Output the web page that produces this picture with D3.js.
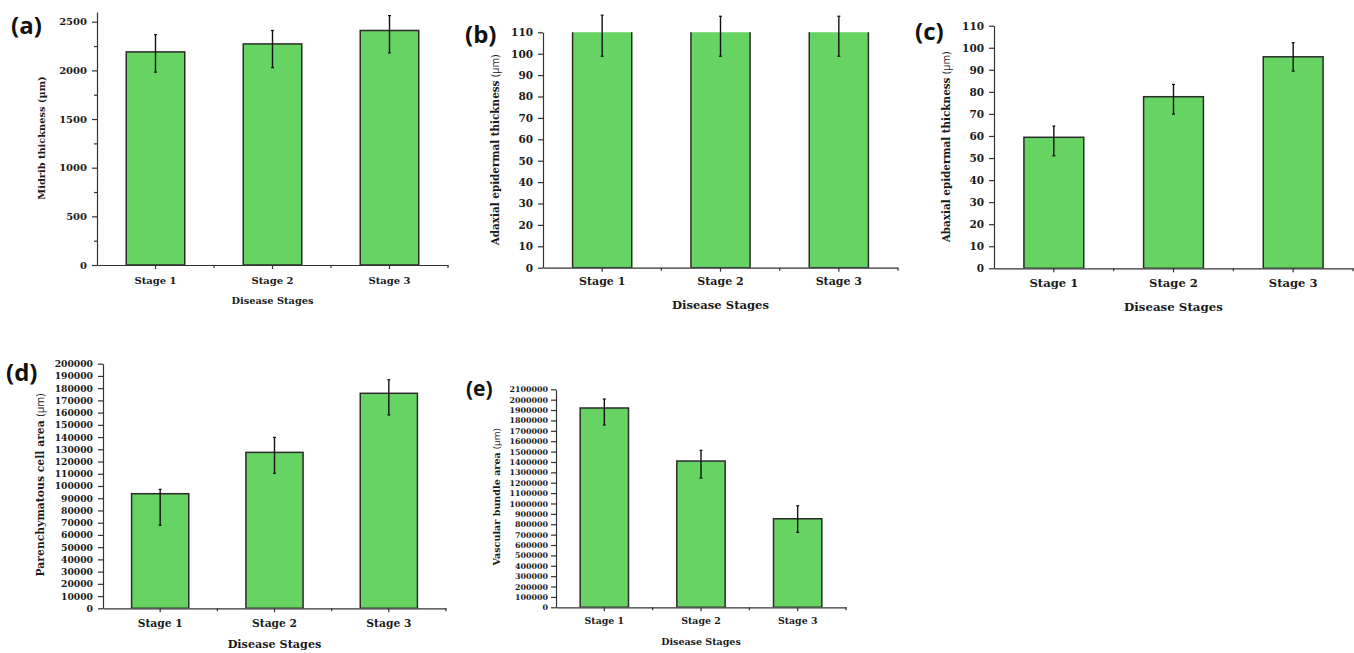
<!DOCTYPE html>
<html>
<head>
<meta charset="utf-8">
<script src="https://cdn.jsdelivr.net/npm/d3@7"></script>
<style>
	body { margin: 0; background: #fff; }
	svg { display: block; }
	.axis path, .axis line { stroke: #333; stroke-width: 1.2; }
	.axis text { fill: #1a1a1a; font-family: "DejaVu Serif", serif; font-weight: bold; }
</style>
</head>
<body>
<svg id="chart" width="1354" height="653"></svg>
<script>
const stages = ["Stage 1", "Stage 2", "Stage 3"];

// (a) midrib thickness
const midribMean = [2190, 2272, 2410];
const midribLow = [1982, 2028, 2180];
const midribHigh = [2367, 2410, 2563];

// (b) adaxial epidermal thickness (bars run past the axis top)
const adaxialMean = [113, 113, 113];
const adaxialLow = [98.8, 98.8, 98.8];
const adaxialHigh = [118, 117.5, 117.5];

// (c) abaxial epidermal thickness
const abaxialMean = [59.4, 77.8, 95.9];
const abaxialLow = [51.0, 69.9, 89.4];
const abaxialHigh = [64.5, 83.4, 102.3];

// (d) parenchymatous cell area
const parenMean = [93700, 127500, 175800];
const parenLow = [67900, 110400, 158100];
const parenHigh = [97300, 139800, 186900];

// (e) vascular bundle area
const vascMean = [1920000, 1409000, 853000];
const vascLow = [1756000, 1245000, 722000];
const vascHigh = [2006700, 1512000, 978000];

const svg = d3.select("#chart");
const barFill = "#66d362";

const panels = [
	{ tag: "(a)", mean: midribMean, low: midribLow, high: midribHigh, max: 2600, major: 500, minor: 250,
	  label: "Midrib thickness (µm)", unitSans: false,
	  x0: 97, x1: 448, yTop: 12, yBot: 265, tickFs: 10, stageFs: 10, titleFs: 9.8, yFs: 9.8,
	  labPad: 8, titleY: 304, yLabX: 42, yLabY: 138, tagX: 11, tagY: 34, tagFs: 24, tickPad: 5 },
	{ tag: "(b)", mean: adaxialMean, low: adaxialLow, high: adaxialHigh, max: 110, major: 10, minor: 0,
	  label: "Adaxial epidermal thickness ", unitSans: true,
	  x0: 543, x1: 898, yTop: 32.3, yBot: 267.7, tickFs: 10.5, stageFs: 11, titleFs: 11.6, yFs: 10.4,
	  labPad: 5.5, titleY: 309, yLabX: 495, yLabY: 150, tagX: 465, tagY: 43, tagFs: 24, tickPad: 5 },
	{ tag: "(c)", mean: abaxialMean, low: abaxialLow, high: abaxialHigh, max: 110, major: 10, minor: 0,
	  label: "Abaxial epidermal thickness ", unitSans: true,
	  x0: 994, x1: 1353, yTop: 25.7, yBot: 268.3, tickFs: 10.5, stageFs: 11.6, titleFs: 11.8, yFs: 10.4,
	  labPad: 6.5, titleY: 311, yLabX: 946, yLabY: 147, tagX: 915, tagY: 40, tagFs: 24, tickPad: 5 },
	{ tag: "(d)", mean: parenMean, low: parenLow, high: parenHigh, max: 200000, major: 10000, minor: 0,
	  label: "Parenchymatous cell area ", unitSans: true,
	  x0: 103, x1: 446, yTop: 363.7, yBot: 608.3, tickFs: 9.2, stageFs: 10.7, titleFs: 11.2, yFs: 10.8,
	  labPad: 7, titleY: 648, yLabX: 40, yLabY: 485, tagX: 6, tagY: 381, tagFs: 24, tickPad: 5 },
	{ tag: "(e)", mean: vascMean, low: vascLow, high: vascHigh, max: 2100000, major: 100000, minor: 0,
	  label: "Vascular bundle area ", unitSans: true,
	  x0: 556, x1: 846, yTop: 389.3, yBot: 607.3, tickFs: 7.9, stageFs: 9.4, titleFs: 9.5, yFs: 9.6,
	  labPad: 6, titleY: 645, yLabX: 497, yLabY: 497, tagX: 466, tagY: 396, tagFs: 21, tickPad: 3 }
];

panels.forEach((p, idx) => drawPanel(p, idx));

function drawPanel(p, idx) {
	const g = svg.append("g");
	const x = d3.scaleBand().domain(stages).range([p.x0, p.x1]).paddingInner(0.5).paddingOuter(0.25);
	const y = d3.scaleLinear().domain([0, p.max]).range([p.yBot, p.yTop]);

	// clip bars to the plot area
	const clipId = "clip" + idx;
	svg.append("clipPath").attr("id", clipId)
		.append("rect")
		.attr("x", p.x0).attr("y", p.yTop)
		.attr("width", p.x1 - p.x0).attr("height", p.yBot - p.yTop);

	g.append("g").attr("clip-path", `url(#${clipId})`)
		.selectAll("rect")
		.data(stages)
		.join("rect")
		.attr("x", d => x(d))
		.attr("width", x.bandwidth())
		.attr("y", (d, i) => y(p.mean[i]))
		.attr("height", (d, i) => y(0) - y(p.mean[i]))
		.attr("fill", barFill)
		.attr("stroke", "#2b2b2b")
		.attr("stroke-width", 1.5);

	// error bars
	const cx = d => x(d) + x.bandwidth() / 2;
	const err = g.append("g").selectAll("g").data(stages).join("g");
	err.append("line")
		.attr("x1", cx).attr("x2", cx)
		.attr("y1", (d, i) => y(p.low[i]))
		.attr("y2", (d, i) => y(p.high[i]))
		.attr("stroke", "#111").attr("stroke-width", 1.4);
	["low", "high"].forEach(k => {
		err.append("line")
			.attr("x1", d => cx(d) - 1.5).attr("x2", d => cx(d) + 1.5)
			.attr("y1", (d, i) => y(p[k][i])).attr("y2", (d, i) => y(p[k][i]))
			.attr("stroke", "#111").attr("stroke-width", 1.2);
	});

	// y axis
	const majorTicks = d3.range(0, p.max + 1, p.major);
	if (p.minor) {
		const minorTicks = d3.range(p.minor, p.max, p.major);
		g.append("g").attr("class", "axis")
			.attr("transform", `translate(${p.x0},0)`)
			.call(d3.axisLeft(y).tickValues(minorTicks).tickSize(3).tickSizeOuter(0).tickFormat(""))
			.select(".domain").remove();
	}
	const yAxis = g.append("g").attr("class", "axis")
		.attr("transform", `translate(${p.x0},0)`)
		.call(d3.axisLeft(y).tickValues(majorTicks).tickSize(5).tickSizeOuter(0)
			.tickPadding(p.tickPad).tickFormat(d3.format("d")));
	yAxis.selectAll("text").style("font-size", p.tickFs + "px");

	// x axis
	const xAxis = g.append("g").attr("class", "axis")
		.attr("transform", `translate(0,${p.yBot})`)
		.call(d3.axisBottom(x).tickSize(4).tickSizeOuter(0).tickPadding(p.labPad));
	xAxis.selectAll("text").style("font-size", p.stageFs + "px");
	const step = x.step();
	g.append("g").attr("class", "axis")
		.selectAll("line")
		.data(d3.range(1, stages.length + 1))
		.join("line")
		.attr("x1", d => p.x0 + d * step).attr("x2", d => p.x0 + d * step)
		.attr("y1", p.yBot).attr("y2", p.yBot + 3);

	// titles
	g.append("text")
		.attr("x", (p.x0 + p.x1) / 2).attr("y", p.titleY)
		.attr("text-anchor", "middle")
		.style("font-family", "DejaVu Serif, serif").style("font-weight", "bold")
		.style("font-size", p.titleFs + "px").attr("fill", "#1a1a1a")
		.text("Disease Stages");

	const yl = g.append("text")
		.attr("transform", `translate(${p.yLabX},${p.yLabY}) rotate(-90)`)
		.attr("text-anchor", "middle").attr("dy", "0.35em")
		.style("font-family", "DejaVu Serif, serif").style("font-weight", "bold")
		.style("font-size", p.yFs + "px").attr("fill", "#1a1a1a");
	yl.append("tspan").text(p.label);
	if (p.unitSans) {
		yl.append("tspan")
			.style("font-family", "Open Sans, sans-serif").style("font-weight", "normal")
			.text("(µm)");
	}

	g.append("text")
		.attr("x", p.tagX).attr("y", p.tagY)
		.style("font-family", "Open Sans, sans-serif").style("font-weight", "bold")
		.style("font-size", p.tagFs + "px").attr("fill", "#111")
		.text(p.tag);
}
</script>
</body>
</html>
